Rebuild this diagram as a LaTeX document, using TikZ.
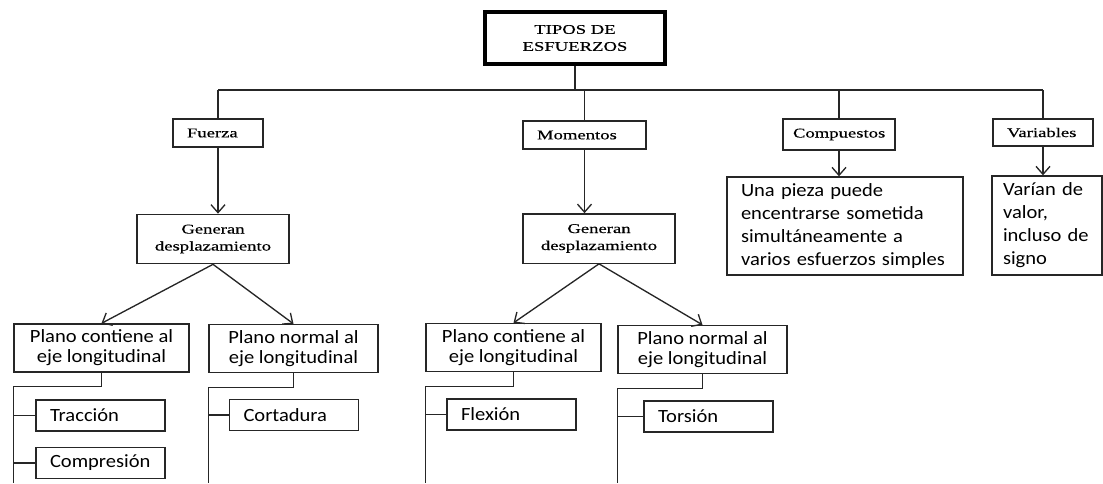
\documentclass[tikz,border=0pt]{standalone}
\usepackage{fontspec}
\usetikzlibrary{arrows.meta}
\newfontfamily\serfont[FakeStretch=1.4,FakeBold=0.4]{Liberation Serif}
\newfontfamily\calfont[FakeStretch=1.1]{Carlito}

\tikzstyle{box}=[draw=black!85,line width=1pt,inner ysep=0pt,font=\serfont\fontsize{10}{12.75}\selectfont]
\tikzstyle{head box}=[box,align=left,inner xsep=10.5pt,minimum height=21pt]
\tikzstyle{gen box}=[box,align=center,minimum width=114pt,minimum height=37pt]
\tikzstyle{text box}=[box,font=\calfont\fontsize{14}{17.25}\selectfont,align=left,inner xsep=10.5pt]
\tikzstyle{plano box}=[box,font=\calfont\fontsize{14}{15}\selectfont,align=center,minimum height=36pt]
\tikzstyle{leaf box}=[box,font=\calfont\fontsize{14}{15}\selectfont,text width=75.75pt,align=left,inner xsep=10.5pt,minimum height=23.25pt]
\tikzstyle{edge}=[draw,line width=1pt,black!85]
\tikzstyle{arrow edge}=[edge,-{Straight Barb[length=6pt,width=10.5pt]}]

\begin{document}
\begin{tikzpicture}[x=0.75pt,y=-0.75pt]
	\useasboundingbox (0,0) rectangle (1103,483);
			% Root and first level
			\node[box,draw=black,line width=2.4pt,align=center,minimum width=135pt,minimum height=39pt] (tipos) at (575,38) {TIPOS DE\\ESFUERZOS};
			\node[head box,text width=46.5pt] (fuerza) at (218,133) {Fuerza};
			\node[head box,text width=71.25pt] (momentos) at (584.5,135) {Momentos};
			\node[head box,text width=69pt,inner xsep=7.5pt,minimum height=23.25pt] (compuestos) at (839,134.5) {Compuestos};
			\node[head box,text width=54pt,minimum height=20.25pt] (variables) at (1043,132.5) {Variables};
			% Second level
			\node[gen box] (genF) at (213,239) {Generan\\desplazamiento};
			\node[gen box] (genM) at (599,238.5) {Generan\\desplazamiento};
			\node[text box,text width=156pt,minimum height=73.5pt] (compTxt) at (845,226) {Una pieza puede\\encentrarse sometida\\simultáneamente a\\varios esfuerzos simples};
			\node[text box,text width=66pt,inner xsep=8.25pt,minimum height=74.25pt] (varTxt) at (1047,225.5) {Varían de\\valor,\\incluso de\\signo};
			% Planes
			\node[plano box,minimum width=131.25pt] (pcF) at (101.5,348) {Plano contiene al\\eje longitudinal};
			\node[plano box,minimum width=126.75pt] (pnF) at (293.5,348.5) {Plano normal al\\eje longitudinal};
			\node[plano box,minimum width=131.25pt] (pcM) at (513.5,347.5) {Plano contiene al\\eje longitudinal};
			\node[plano box,minimum width=126.75pt] (pnM) at (702.5,349.5) {Plano normal al\\eje longitudinal};
			% Leaves
			\node[leaf box] (traccion) at (100.5,415.5) {Tracción};
			\node[leaf box] (compresion) at (100.5,463) {Compresión};
			\node[leaf box] (cortadura) at (294,415) {Cortadura};
			\node[leaf box] (flexion) at (511.5,414.5) {Flexión};
			\node[leaf box] (torsion) at (708.5,416.5) {Torsión};
			\coordinate (busL) at (218,90);
			\coordinate (busR) at (1043,90);
			\coordinate (floor) at (0,483);
	    		% Connect the root with the first level
			\path[edge] (busL) -- (busR);
			\path[edge] (tipos.south) -- (tipos.south |- busL);
			\foreach \dest in {fuerza,momentos,compuestos,variables}
				\path[edge] (\dest.north |- busL) -- (\dest.north);
	   		% Arrows down
	   		\foreach \source/ \dest in {fuerza/genF, momentos/genM, compuestos/compTxt, variables/varTxt}
	        		\path[arrow edge] (\source.south) -- (\source.south |- \dest.north);
	   		\foreach \source/ \dest in {genF/pcF, genF/pnF, genM/pcM, genM/pnM}
	        		\path[arrow edge] (\source.south) -- (\dest.north);
	   		% Trees below the planes
	   		\foreach \plano in {pcF,pnF,pcM,pnM}
	        		\path[edge] (\plano.south) -- ++(0,14) -| (\plano.west |- floor);
	   		\foreach \plano/ \leaf in {pcF/traccion, pcF/compresion, pnF/cortadura, pcM/flexion, pnM/torsion}
	        		\path[edge] (\leaf.west -| \plano.west) -- (\leaf.west);
		\end{tikzpicture}
\end{document}
